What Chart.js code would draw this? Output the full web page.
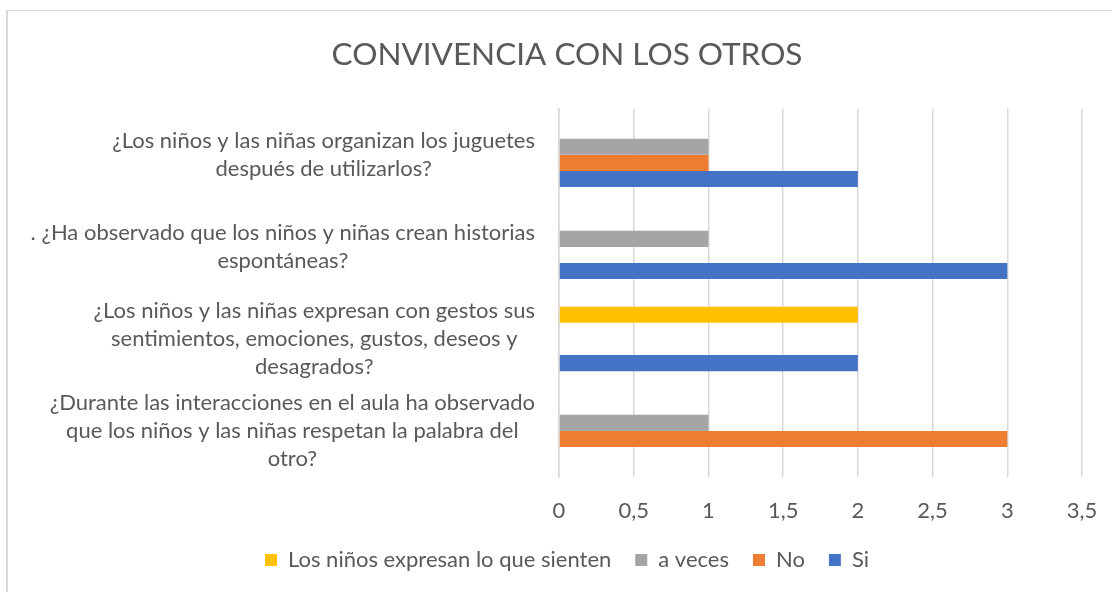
<!DOCTYPE html>
<html>
<head>
<meta charset="utf-8">
<script src="https://cdn.jsdelivr.net/npm/chart.js@4/dist/chart.umd.min.js"></script>
<style>
  html, body { margin: 0; padding: 0; background: #fff; overflow: hidden; }
  #frame { position: absolute; left: 6px; top: 10px; width: 1200px; height: 700px;
           border-left: 2px solid #d9d9d9; border-top: 1px solid #d9d9d9; }
  #myChart { position: absolute; left: 0; top: 0; }
</style>
</head>
<body>
<div id="frame"></div>
<canvas id="myChart" width="1112" height="592"></canvas>
<script>
// questions, top to bottom as in the picture (each one split in its lines)
const categories = [
  ["¿Los niños y las niñas organizan los juguetes", "después de utilizarlos?"],
  [". ¿Ha observado que los niños y niñas crean historias", "espontáneas?"],
  ["¿Los niños y las niñas expresan con gestos sus", "sentimientos, emociones, gustos, deseos y", "desagrados?"],
  ["¿Durante las interacciones en el aula ha observado", "que los niños y las niñas respetan la palabra del", "otro?"]
];

// one array per answer (null = no bar)
const expresan = [null, null, 2, null];
const aVeces = [1, 1, null, 1];
const no = [1, null, null, 3];
const si = [2, 3, 2, null];

const xTicks = [0, 0.5, 1, 1.5, 2, 2.5, 3, 3.5];

const textColor = "#595959";
const fontName = "Lato, 'Open Sans', sans-serif";

// Excel centres every line of a category label, then puts the block against the axis
const categoryLabels = {
  id: "categoryLabels",
  afterDraw(chart) {
    const ctx = chart.ctx;
    const yScale = chart.scales.y;
    const rightEdge = chart.chartArea.left - 24;
    const lineHeight = 28;
    ctx.save();
    ctx.font = "22px " + fontName;
    ctx.fillStyle = textColor;
    ctx.textAlign = "center";
    ctx.textBaseline = "middle";
    for (let i = 0; i < categories.length; i++) {
      const lines = categories[i];
      let widest = 0;
      for (let j = 0; j < lines.length; j++) {
        widest = Math.max(widest, ctx.measureText(lines[j]).width);
      }
      const cx = rightEdge - widest / 2;
      const yMid = yScale.getPixelForTick(i);
      const y0 = yMid - (lines.length - 1) * lineHeight / 2;
      for (let j = 0; j < lines.length; j++) {
        ctx.fillText(lines[j], cx, y0 + j * lineHeight);
      }
    }
    ctx.restore();
  }
};

const ctx = document.getElementById("myChart");

new Chart(ctx, {
  type: "bar",
  data: {
    labels: categories,
    datasets: [
      { label: "Los niños expresan lo que sienten", data: expresan, backgroundColor: "#FFC000" },
      { label: "a veces", data: aVeces, backgroundColor: "#A5A5A5" },
      { label: "No", data: no, backgroundColor: "#ED7D31" },
      { label: "Si", data: si, backgroundColor: "#4472C4" }
    ]
  },
  options: {
    indexAxis: "y",
    responsive: false,
    animation: false,
    devicePixelRatio: 1,
    categoryPercentage: 0.7,
    barPercentage: 1.0,
    layout: { padding: { left: 52, right: 30, top: 10, bottom: 11 } },
    scales: {
      x: {
        min: 0,
        max: 3.5,
        afterBuildTicks(scale) {
          scale.ticks = xTicks.map(v => ({ value: v }));
        },
        afterFit(scale) {
          scale.height = 48;
          // last label only needs half its width on the right
          scale.paddingRight = 16;
          scale.paddingLeft = 0;
        },
        grid: { color: "#d9d9d9", lineWidth: 1.5, drawTicks: false },
        border: { display: false },
        ticks: {
          color: textColor,
          font: { family: fontName, size: 22 },
          padding: 21,
          maxRotation: 0,
          callback: v => String(v).replace(".", ",")
        }
      },
      y: {
        grid: { display: false, drawTicks: false },
        border: { color: "#d9d9d9", width: 1.5 },
        ticks: { display: false },
        afterFit(scale) {
          scale.width = 507;
        }
      }
    },
    plugins: {
      title: {
        display: true,
        text: "CONVIVENCIA CON LOS OTROS",
        color: textColor,
        font: { family: fontName, size: 31.5, weight: "normal" },
        padding: { top: 26, bottom: 35 }
      },
      legend: {
        position: "bottom",
        labels: {
          color: textColor,
          font: { family: fontName, size: 22 },
          boxWidth: 12,
          boxHeight: 12,
          padding: 24
        }
      },
      tooltip: { enabled: false }
    }
  },
  plugins: [categoryLabels]
});
</script>
</body>
</html>
